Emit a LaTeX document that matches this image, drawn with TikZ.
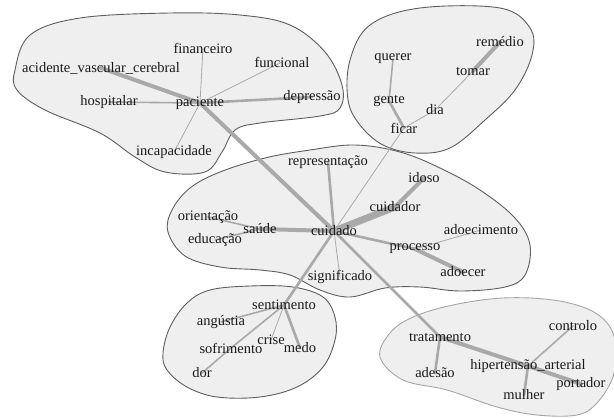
\documentclass[tikz,border=0pt]{standalone}
\usepackage{fontspec}
\newfontfamily\wordfont{Liberation Serif}
\usepackage{xcolor}
\usepackage{tikz}
\usetikzlibrary{backgrounds}

\definecolor{blobfill}{HTML}{EFEFEF}
\definecolor{blobline}{HTML}{5E5E5E}
\definecolor{edgegray}{HTML}{A9A9A9}

\tikzset{
    word/.style={inner sep=0pt,text=black!90,font=\wordfont\fontsize{14.5}{16}\selectfont},
    blob/.style={draw=blobline,fill=blobfill,line width=0.9pt},
    link/.style={draw=edgegray,line cap=round},
    w1/.style={link,line width=0.8pt},
    w2/.style={link,line width=1.6pt},
    w3/.style={link,line width=2.6pt},
    w4/.style={link,line width=4pt},
    w5/.style={link,line width=7pt}
}

\begin{document}
\begin{tikzpicture}[x=1pt,y=-1pt]
    \useasboundingbox (0,0) rectangle (614,418);

    \node[word] (financeiro) at (203,48) {financeiro};
    \node[word] (funcional) at (282,62) {funcional};
    \node[word] (avc) at (101,68) {acidente\_vascular\_cerebral};
    \node[word] (hospitalar) at (109,102) {hospitalar};
    \node[word] (paciente) at (200,103) {paciente};
    \node[word] (depressao) at (312,97) {depressão};
    \node[word] (incapacidade) at (174,152) {incapacidade};

    \node[word] (querer) at (393,59) {querer};
    \node[word] (remedio) at (500,42) {remédio};
    \node[word] (tomar) at (473,71) {tomar};
    \node[word] (gente) at (389,101) {gente};
    \node[word] (dia) at (435,110) {dia};
    \node[word] (ficar) at (404,128) {ficar};

    \node[word] (representacao) at (328,162) {representação};
    \node[word] (idoso) at (424,178) {idoso};
    \node[word] (cuidador) at (395,207) {cuidador};
    \node[word] (orientacao) at (208,217) {orientação};
    \node[word] (saude) at (260,229) {saúde};
    \node[word] (cuidado) at (334,231) {cuidado};
    \node[word] (educacao) at (215,240) {educação};
    \node[word] (adoecimento) at (481,230) {adoecimento};
    \node[word] (processo) at (415,249) {processo};
    \node[word] (adoecer) at (463,272) {adoecer};
    \node[word] (significado) at (340,277) {significado};

    \node[word] (sentimento) at (284,305) {sentimento};
    \node[word] (angustia) at (221,322) {angústia};
    \node[word] (crise) at (271,340) {crise};
    \node[word] (sofrimento) at (231,348) {sofrimento};
    \node[word] (medo) at (300,348) {medo};
    \node[word] (dor) at (202,373) {dor};

    \node[word] (controlo) at (573,326) {controlo};
    \node[word] (tratamento) at (440,337) {tratamento};
    \node[word] (hipertensao) at (528,366) {hipertensão\_arterial};
    \node[word] (adesao) at (435,373) {adesão};
    \node[word] (portador) at (581,384) {portador};
    \node[word] (mulher) at (524,395) {mulher};

    \begin{scope}[on background layer]
        \draw[blob] plot[smooth cycle,tension=0.6] coordinates {
            (15,70) (30,35) (80,18) (170,13) (240,15) (290,25) (325,52)
            (342,85) (340,108) (320,116) (260,123) (235,130) (222,152)
            (205,172) (165,172) (135,157) (100,133) (45,110) (17,90)};
        \draw[blob] plot[smooth cycle,tension=0.6] coordinates {
            (348,100) (350,60) (370,25) (420,8) (500,8) (530,28) (532,55)
            (515,90) (485,120) (450,148) (415,153) (383,145) (360,125)};
        \draw[blob] plot[smooth cycle,tension=0.6] coordinates {
            (168,232) (172,210) (190,188) (220,172) (265,158) (310,150)
            (355,145) (400,152) (440,168) (480,190) (515,218) (530,245)
            (525,275) (505,287) (460,291) (420,287) (385,288) (350,297)
            (320,290) (290,275) (260,270) (220,267) (185,256)};
        \draw[blob] plot[smooth cycle,tension=0.6] coordinates {
            (163,353) (170,327) (187,303) (210,290) (250,286) (293,287)
            (323,297) (335,317) (335,340) (323,367) (297,387) (260,397)
            (217,397) (187,387) (167,370)};
        \draw[blob,draw=black!35] plot[smooth cycle,tension=0.6] coordinates {
            (380,357) (390,333) (413,317) (453,305) (503,298) (553,300)
            (590,310) (610,327) (616,350) (613,377) (597,403) (577,415)
            (537,415) (497,407) (447,390) (403,380)};
    \end{scope}

    \begin{scope}[on background layer]
        \draw[w1] (paciente.center) -- (financeiro.center);
        \draw[w1] (paciente.center) -- (funcional.center);
        \draw[w4] (paciente.center) -- (avc.center);
        \draw[w2] (paciente.center) -- (hospitalar.center);
        \draw[w3] (paciente.center) -- (depressao.center);
        \draw[w1] (paciente.center) -- (incapacidade.center);
        \draw[w4] (paciente.center) -- (cuidado.center);

        \draw[w2] (querer.center) -- (gente.center);
        \draw[w3] (gente.center) -- (ficar.center);
        \draw[w1] (ficar.center) -- (dia.center);
        \draw[w1] (dia.center) -- (tomar.center);
        \draw[w4] (tomar.center) -- (remedio.center);
        \draw[w1] (ficar.center) -- (cuidado.center);

        \draw[w3] (cuidado.center) -- (representacao.center);
        \draw[w5] (cuidado.center) -- (cuidador.center);
        \draw[w4] (cuidador.center) -- (idoso.center);
        \draw[w4] (cuidado.center) -- (saude.center);
        \draw[w2] (saude.center) -- (orientacao.center);
        \draw[w2] (saude.center) -- (educacao.center);
        \draw[w3] (cuidado.center) -- (processo.center);
        \draw[w1] (processo.center) -- (adoecimento.center);
        \draw[w4] (processo.center) -- (adoecer.center);
        \draw[w1] (cuidado.center) -- (significado.center);
        \draw[w3] (cuidado.center) -- (sentimento.center);
        \draw[w3] (cuidado.center) -- (tratamento.center);

        \draw[w2] (sentimento.center) -- (angustia.center);
        \draw[w1] (sentimento.center) -- (crise.center);
        \draw[w3] (sentimento.center) -- (medo.center);
        \draw[w2] (sentimento.center) -- (sofrimento.center);
        \draw[w2] (sofrimento.center) -- (dor.center);

        \draw[w3] (tratamento.center) -- (adesao.center);
        \draw[w4] (tratamento.center) -- (hipertensao.center);
        \draw[w4] (hipertensao.center) -- (portador.center);
        \draw[w2] (hipertensao.center) -- (controlo.center);
        \draw[w3] (hipertensao.center) -- (mulher.center);
    \end{scope}
\end{tikzpicture}
\end{document}
